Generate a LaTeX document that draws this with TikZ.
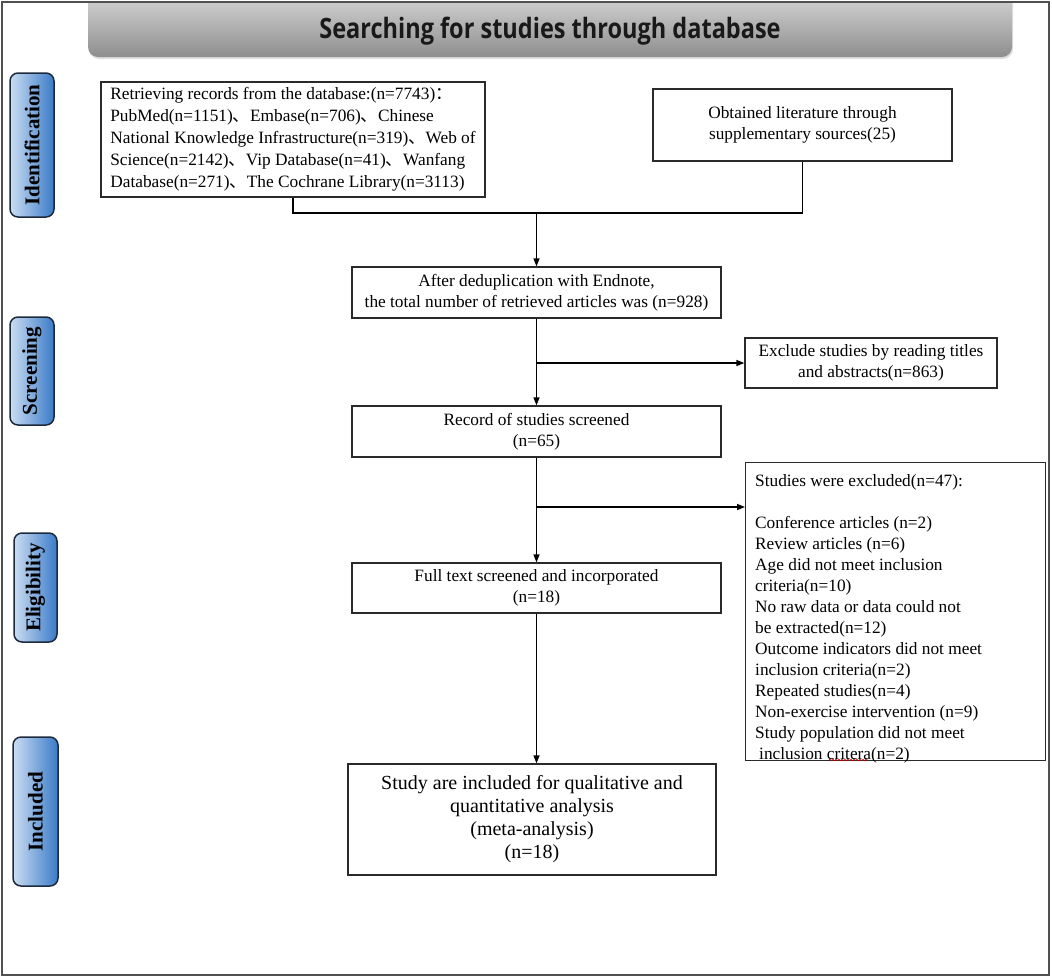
\documentclass[tikz,border=0pt]{standalone}
\usepackage{fontspec}
\setmainfont{Liberation Serif}
\newfontfamily\cjk{Noto Sans CJK SC}
\newfontfamily\titlefont[FakeStretch=0.84]{Open Sans}
\usetikzlibrary{arrows.meta,shadows,decorations.pathmorphing}
\definecolor{framegray}{HTML}{505050}
\definecolor{boxline}{HTML}{2A2A2A}
\definecolor{badgelight}{HTML}{CBDDF2}
\definecolor{badgedark}{HTML}{3A7BC8}
\definecolor{badgeline}{HTML}{1C2A3C}
\definecolor{bartop}{HTML}{DADADA}
\definecolor{barbot}{HTML}{8E8E8E}
\begin{document}
\begin{tikzpicture}[x=1pt,y=-1pt,
  box/.style={draw=boxline, line width=1.3pt, fill=white, inner sep=0pt, align=center,
    font=\fontsize{17.3}{21.5}\selectfont},
  bigbox/.style={box, font=\fontsize{20}{23}\selectfont},
  arr/.style={line width=1.4pt, -{Triangle[length=8pt,width=6pt]}},
  link/.style={line width=1.4pt},
  badge/.style={draw=badgeline, line width=1.5pt, rounded corners=8pt,
    left color=badgelight, right color=badgedark, inner sep=0pt,
    font=\fontsize{21}{21}\bfseries\selectfont}
]
\useasboundingbox (0,0) rectangle (1052,978);
\fill[white] (0,0) rectangle (1052,978);

% title bar
\begin{scope}
\clip (2,2) rectangle (1049,976);
\node[draw=none, rounded corners=10pt, top color=bartop, bottom color=barbot,
  minimum width=924pt, minimum height=68pt, inner sep=0pt,
  drop shadow={opacity=0.25, shadow xshift=1pt, shadow yshift=-2pt}] (titlebar) at (550,23) {};
\end{scope}
\node[inner sep=0pt, font=\titlefont\bfseries\fontsize{28}{28}\selectfont, text=black!90] (title) at (550,31) {Searching for studies through database};

% outer frame
\draw[framegray, line width=1.5pt] (2,2) rectangle (1049,975);

% badges
\node[badge, minimum width=44pt, minimum height=144pt] (bid) at (32,145) {\rotatebox{90}{Identification}};
\node[badge, minimum width=44pt, minimum height=108pt] (bsc) at (32,371) {\rotatebox{90}{Screening}};
\node[badge, minimum width=43pt, minimum height=109pt] (bel) at (35.5,587.5) {\rotatebox{90}{Eligibility}};
\node[badge, minimum width=45pt, minimum height=149pt] (bin) at (35.5,811.5) {\rotatebox{90}{Included}};

% boxes
\node[box, align=left, minimum width=384pt, minimum height=115pt,
  font=\fontsize{17.3}{22}\selectfont] (box1) at (293,139.5)
{Retrieving records from the database:(n=7743){\cjk ：}\\
PubMed(n=1151){\cjk 、}Embase(n=706){\cjk 、}Chinese\\
National Knowledge Infrastructure(n=319){\cjk 、}Web of\\
Science(n=2142){\cjk 、}Vip Database(n=41){\cjk 、}Wanfang\\
Database(n=271){\cjk 、}The Cochrane Library(n=3113)};

\node[box, minimum width=299pt, minimum height=72pt] (box2) at (802.5,125)
{Obtained literature through\\supplementary sources(25)};

\node[box, minimum width=369pt, minimum height=51pt] (box3) at (536.5,292.5)
{After deduplication with Endnote,\\the total number of retrieved articles was (n=928)};

\node[box, minimum width=252pt, minimum height=50pt] (box4) at (871,363)
{Exclude studies by reading titles\\and abstracts(n=863)};

\node[box, minimum width=369pt, minimum height=51pt] (box5) at (536.5,431.5)
{Record of studies screened\\(n=65)};

\node[box, minimum width=300pt, minimum height=298pt, anchor=north west] (box6) at (745,462) {};
\node[anchor=north west, align=left, inner sep=0pt, font=\fontsize{17.3}{21}\selectfont] (box6txt) at (755,474)
{Studies were excluded(n=47):\\
\mbox{}\\
Conference articles (n=2)\\
Review articles (n=6)\\
Age did not meet inclusion\\
criteria(n=10)\\
No raw data or data could not\\
be extracted(n=12)\\
Outcome indicators did not meet\\
inclusion criteria(n=2)\\
Repeated studies(n=4)\\
Non-exercise intervention (n=9)\\
Study population did not meet\\
\hspace*{4pt}inclusion critera(n=2)};
\draw[red!80!black, line width=0.6pt, decorate, decoration={snake, amplitude=0.8pt, segment length=3pt}] (829,760) -- (868,760);

\node[box, minimum width=369pt, minimum height=50pt] (box7) at (536.5,588)
{Full text screened and incorporated\\(n=18)};

\node[bigbox, minimum width=368pt, minimum height=111pt] (box8) at (532,819.5)
{Study are included for qualitative and\\quantitative analysis\\(meta-analysis)\\(n=18)};

% connectors
\coordinate (j1y) at (0,213);
\coordinate (j1) at (box3.north |- j1y);
\draw[link] (box1.south) |- (j1) -| (box2.south);
\draw[arr] (j1) -- (box3.north);

\coordinate (b1) at (box3.south |- box4.west);
\draw[arr] (box3.south) -- (box5.north);
\draw[arr] (b1) -- (box4.west);

\coordinate (b2y) at (0,507);
\coordinate (b2) at (box5.south |- b2y);
\draw[arr] (box5.south) -- (box7.north);
\draw[arr] (b2) -- (box6.west |- b2);

\draw[arr] (box7.south) -- (box7.south |- box8.north);
\end{tikzpicture}
\end{document}
